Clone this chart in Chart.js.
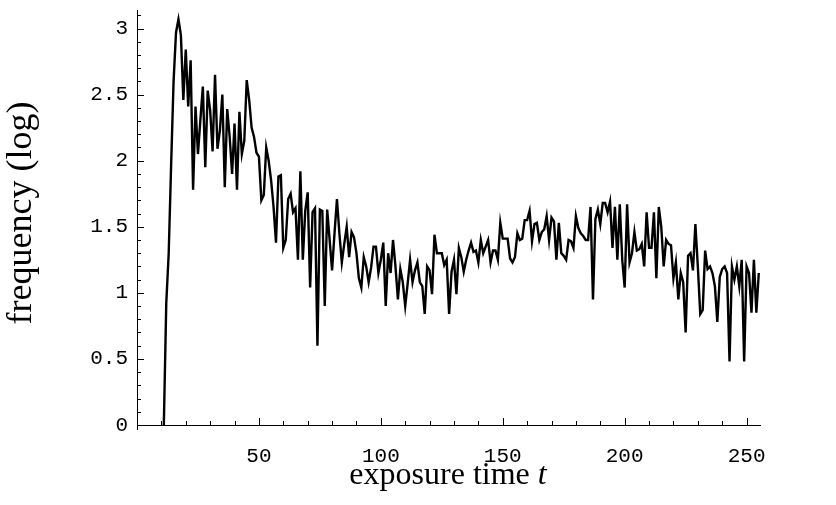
<!DOCTYPE html>
<html>
<head>
<meta charset="utf-8">
<script src="https://cdn.jsdelivr.net/npm/chart.js@4.4.1/dist/chart.umd.min.js"></script>
<style>
  html, body { margin: 0; padding: 0; background: #fff; }
  #wrap { width: 836px; height: 505px; position: relative; }
</style>
</head>
<body>
<div id="wrap"><canvas id="freqChart"></canvas></div>
<script>
// exposure time t runs from 11 to 255, one value per step
const firstTime = 11;
const freqLog = [
  0.00, 0.92, 1.30, 1.97, 2.60, 2.97, 3.07, 2.95, 2.46, 2.84,
  2.41, 2.76, 1.78, 2.41, 2.05, 2.31, 2.56, 1.95, 2.53, 2.38,
  2.07, 2.65, 2.09, 2.23, 2.50, 1.80, 2.39, 2.18, 1.90, 2.28,
  1.78, 2.37, 2.05, 2.15, 2.61, 2.46, 2.25, 2.18, 2.06, 2.03,
  1.70, 1.74, 2.10, 2.00, 1.85, 1.65, 1.38, 1.88, 1.89, 1.34,
  1.40, 1.71, 1.75, 1.61, 1.64, 1.25, 1.92, 1.25, 1.62, 1.76,
  1.04, 1.61, 1.64, 0.60, 1.63, 1.62, 0.90, 1.63, 1.40, 1.17,
  1.45, 1.71, 1.45, 1.23, 1.37, 1.50, 1.27, 1.46, 1.42, 1.30,
  1.11, 1.04, 1.27, 1.20, 1.08, 1.19, 1.35, 1.35, 1.15, 1.25,
  1.38, 0.90, 1.30, 1.15, 1.40, 1.20, 0.95, 1.18, 1.08, 0.90,
  1.07, 1.25, 1.08, 1.17, 1.23, 1.08, 1.05, 0.84, 1.20, 1.17,
  0.99, 1.44, 1.30, 1.30, 1.30, 1.21, 1.25, 0.84, 1.16, 1.25,
  0.99, 1.34, 1.27, 1.16, 1.25, 1.32, 1.38, 1.31, 1.32, 1.23,
  1.40, 1.30, 1.35, 1.40, 1.23, 1.32, 1.32, 1.25, 1.53, 1.41,
  1.41, 1.41, 1.26, 1.23, 1.27, 1.45, 1.40, 1.41, 1.55, 1.55,
  1.62, 1.39, 1.52, 1.53, 1.40, 1.46, 1.48, 1.58, 1.40, 1.57,
  1.54, 1.25, 1.53, 1.30, 1.28, 1.25, 1.40, 1.39, 1.34, 1.58,
  1.49, 1.45, 1.43, 1.40, 1.40, 1.65, 0.95, 1.56, 1.63, 1.52,
  1.68, 1.68, 1.61, 1.69, 1.34, 1.65, 1.25, 1.67, 1.25, 1.04,
  1.67, 1.23, 1.30, 1.46, 1.32, 1.33, 1.37, 1.20, 1.61, 1.34,
  1.34, 1.61, 1.11, 1.65, 1.50, 1.20, 1.40, 1.37, 1.36, 1.11,
  1.23, 0.95, 1.15, 1.08, 0.70, 1.28, 1.30, 1.17, 1.52, 1.20,
  0.84, 0.87, 1.32, 1.18, 1.20, 1.15, 1.05, 0.78, 1.12, 1.18,
  1.20, 1.15, 0.48, 1.20, 1.10, 1.20, 1.05, 1.25, 0.48, 1.20,
  1.15, 0.85, 1.25, 0.85, 1.15
];
const times = freqLog.map((_, i) => firstTime + i);

const xTickValues = [50, 100, 150, 200, 250];
const yTickValues = [0, 0.5, 1, 1.5, 2, 2.5, 3];

const xTitle = 'exposure time ';
const xTitleVar = 't';
const yTitle = 'frequency (log)';

// Mathematica-style ticks pointing into the plot
const inwardTicks = {
  id: 'inwardTicks',
  afterDatasetsDraw(chart) {
    const { ctx, chartArea: a, scales: { x, y } } = chart;
    ctx.save();
    ctx.strokeStyle = '#000';
    ctx.lineWidth = 1;
    ctx.beginPath();
    for (let v = 10; v <= x.max; v += 10) {
      const px = Math.round(x.getPixelForValue(v)) + 0.5;
      const len = v % 50 === 0 ? 7 : 4;
      ctx.moveTo(px, a.bottom);
      ctx.lineTo(px, a.bottom - len);
    }
    for (let k = 1; k / 10 <= y.max; k++) {
      const py = Math.round(y.getPixelForValue(k / 10)) + 0.5;
      const len = k % 5 === 0 ? 7 : 4;
      ctx.moveTo(a.left, py);
      ctx.lineTo(a.left + len, py);
    }
    // small stub of the vertical axis below the origin
    ctx.moveTo(a.left + 0.5, a.bottom);
    ctx.lineTo(a.left + 0.5, a.bottom + 5);
    ctx.stroke();
    ctx.restore();
  }
};

const axisTitles = {
  id: 'axisTitles',
  afterDraw(chart) {
    const { ctx } = chart;
    ctx.save();
    ctx.fillStyle = '#000';
    ctx.textBaseline = 'alphabetic';
    ctx.font = '32px "Liberation Serif"';
    const w1 = ctx.measureText(xTitle).width;
    ctx.font = 'italic 32px "Liberation Serif"';
    const w2 = ctx.measureText(xTitleVar).width;
    const x0 = 448 - (w1 + w2) / 2;
    ctx.font = '32px "Liberation Serif"';
    ctx.fillText(xTitle, x0, 484);
    ctx.font = 'italic 32px "Liberation Serif"';
    ctx.fillText(xTitleVar, x0 + w1, 484);

    ctx.translate(31, 213);
    ctx.rotate(-Math.PI / 2);
    ctx.font = '36px "Liberation Serif"';
    ctx.textAlign = 'center';
    ctx.fillText(yTitle, 0, 0);
    ctx.restore();
  }
};

new Chart(document.getElementById('freqChart'), {
  type: 'line',
  data: {
    labels: times,
    datasets: [{
      data: freqLog,
      borderColor: '#000',
      borderWidth: 2.4,
      pointRadius: 0,
      tension: 0,
      fill: false
    }]
  },
  options: {
    responsive: true,
    maintainAspectRatio: false,
    animation: false,
    layout: { padding: { top: 10, right: 76, left: 0, bottom: 0 } },
    plugins: {
      legend: { display: false },
      tooltip: { enabled: false }
    },
    scales: {
      x: {
        type: 'linear',
        min: 0,
        max: 255.5,
        grid: { display: false, drawTicks: false },
        border: { display: true, color: '#000', width: 1 },
        afterBuildTicks: s => { s.ticks = xTickValues.map(v => ({ value: v })); },
        afterFit: s => { s.height = 80; s.paddingLeft = 0; s.paddingRight = 0; },
        ticks: {
          padding: 19,
          color: '#000',
          maxRotation: 0,
          font: { family: '"Liberation Mono"', size: 21 },
          callback: v => String(v)
        }
      },
      y: {
        min: 0,
        max: 3.14,
        grid: { display: false, drawTicks: false },
        border: { display: true, color: '#000', width: 1 },
        afterBuildTicks: s => { s.ticks = yTickValues.map(v => ({ value: v })); },
        afterFit: s => { s.width = 137; s.paddingTop = 0; s.paddingBottom = 0; },
        ticks: {
          padding: 9,
          color: '#000',
          font: { family: '"Liberation Mono"', size: 21 },
          callback: v => String(v)
        }
      }
    }
  },
  plugins: [inwardTicks, axisTitles]
});
</script>
</body>
</html>
